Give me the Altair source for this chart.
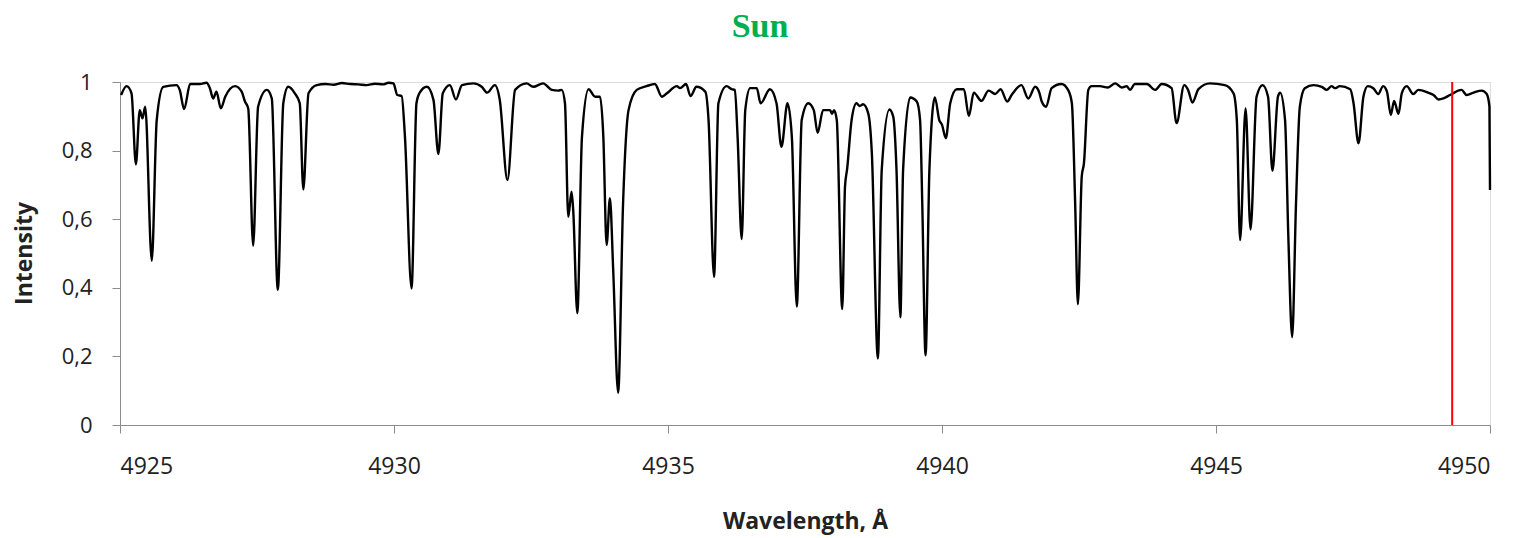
import altair as alt
import pandas as pd

wavelength = [
    4925.02, 4925.12, 4925.21, 4925.29, 4925.36, 4925.41, 4925.46, 4925.58, 4925.67, 4925.79,
    4926.03, 4926.09, 4926.17, 4926.28, 4926.46, 4926.58, 4926.64, 4926.70, 4926.76, 4926.84,
    4926.92, 4927.10, 4927.22, 4927.28, 4927.34, 4927.43, 4927.52, 4927.68, 4927.77, 4927.88,
    4927.98, 4928.07, 4928.19, 4928.28, 4928.345, 4928.44, 4928.59, 4928.75, 4928.90, 4929.05,
    4929.20, 4929.35, 4929.50, 4929.65, 4929.80, 4929.90, 4929.99, 4930.06, 4930.14, 4930.20,
    4930.32, 4930.41, 4930.47, 4930.60, 4930.72, 4930.81, 4930.89, 4931.02, 4931.13, 4931.24,
    4931.45, 4931.60, 4931.70, 4931.84, 4931.93, 4932.07, 4932.21, 4932.42, 4932.54, 4932.72,
    4932.88, 4933.00, 4933.06, 4933.12, 4933.18, 4933.24, 4933.27, 4933.345, 4933.43, 4933.55,
    4933.67, 4933.76, 4933.82, 4933.88, 4933.94, 4934.00, 4934.09, 4934.18, 4934.28, 4934.43,
    4934.61, 4934.76, 4934.89, 4934.98, 4935.16, 4935.22, 4935.33, 4935.41, 4935.52, 4935.68,
    4935.74, 4935.84, 4935.92, 4936.07, 4936.16, 4936.22, 4936.27, 4936.345, 4936.41, 4936.50,
    4936.62, 4936.69, 4936.86, 4936.98, 4937.07, 4937.18, 4937.26, 4937.35, 4937.44, 4937.56,
    4937.66, 4937.73, 4937.83, 4937.96, 4937.99, 4938.03, 4938.08, 4938.18, 4938.23, 4938.27,
    4938.35, 4938.44, 4938.50, 4938.56, 4938.655, 4938.72, 4938.83, 4938.90, 4939.04, 4939.11,
    4939.17, 4939.24, 4939.29, 4939.42, 4939.54, 4939.60, 4939.64, 4939.70, 4939.77, 4939.87,
    4939.95, 4940.00, 4940.07, 4940.15, 4940.27, 4940.40, 4940.49, 4940.58, 4940.72, 4940.85,
    4940.97, 4941.07, 4941.19, 4941.27, 4941.45, 4941.575, 4941.70, 4941.78, 4941.82, 4941.90,
    4942.00, 4942.18, 4942.30, 4942.37, 4942.43, 4942.48, 4942.55, 4942.59, 4942.67, 4942.73,
    4942.88, 4943.03, 4943.16, 4943.28, 4943.37, 4943.43, 4943.52, 4943.74, 4943.89, 4944.01,
    4944.19, 4944.28, 4944.42, 4944.49, 4944.57, 4944.68, 4944.89, 4945.16, 4945.32, 4945.38,
    4945.44, 4945.54, 4945.63, 4945.74, 4945.85, 4945.95, 4946.03, 4946.13, 4946.17, 4946.26,
    4946.32, 4946.39, 4946.46, 4946.53, 4946.62, 4946.78, 4946.93, 4947.02, 4947.11, 4947.17,
    4947.26, 4947.45, 4947.51, 4947.60, 4947.69, 4947.77, 4947.87, 4947.96, 4948.05, 4948.12,
    4948.19, 4948.25, 4948.33, 4948.39, 4948.48, 4948.60, 4948.69, 4948.87, 4948.97, 4949.06,
    4949.15, 4949.27, 4949.48, 4949.575, 4949.70, 4949.85, 4949.94, 4949.99, 4950.00,
]

intensity = [
    0.962, 0.988, 0.967, 0.760, 0.918, 0.894, 0.928, 0.479, 0.889, 0.986,
    0.991, 0.977, 0.921, 0.994, 0.994, 0.998, 0.982, 0.952, 0.972, 0.923,
    0.957, 0.988, 0.972, 0.943, 0.923, 0.523, 0.928, 0.977, 0.952, 0.394,
    0.938, 0.986, 0.967, 0.938, 0.687, 0.967, 0.991, 0.994, 0.992, 0.997,
    0.994, 0.993, 0.991, 0.995, 0.993, 0.998, 0.996, 0.962, 0.959, 0.840,
    0.398, 0.938, 0.969, 0.986, 0.948, 0.790, 0.967, 0.991, 0.949, 0.991,
    0.996, 0.986, 0.969, 0.991, 0.948, 0.714, 0.977, 0.996, 0.986, 0.996,
    0.977, 0.975, 0.977, 0.938, 0.607, 0.680, 0.627, 0.326, 0.840, 0.979,
    0.957, 0.957, 0.840, 0.525, 0.661, 0.452, 0.094, 0.646, 0.918, 0.977,
    0.988, 0.994, 0.957, 0.967, 0.988, 0.982, 0.994, 0.959, 0.986, 0.972,
    0.889, 0.432, 0.938, 0.988, 0.979, 0.977, 0.840, 0.542, 0.918, 0.982,
    0.982, 0.938, 0.979, 0.938, 0.811, 0.938, 0.840, 0.345, 0.889, 0.938,
    0.918, 0.852, 0.918, 0.918, 0.907, 0.918, 0.889, 0.338, 0.695, 0.748,
    0.889, 0.938, 0.930, 0.935, 0.908, 0.792, 0.194, 0.743, 0.920, 0.899,
    0.743, 0.314, 0.743, 0.955, 0.943, 0.889, 0.646, 0.203, 0.743, 0.955,
    0.889, 0.875, 0.836, 0.938, 0.979, 0.979, 0.901, 0.969, 0.945, 0.975,
    0.965, 0.979, 0.943, 0.962, 0.991, 0.952, 0.986, 0.967, 0.943, 0.928,
    0.982, 0.994, 0.977, 0.938, 0.646, 0.352, 0.724, 0.763, 0.977, 0.988,
    0.988, 0.984, 0.996, 0.984, 0.988, 0.977, 0.994, 0.994, 0.977, 0.994,
    0.982, 0.880, 0.991, 0.977, 0.940, 0.979, 0.996, 0.991, 0.967, 0.889,
    0.539, 0.923, 0.570, 0.957, 0.991, 0.957, 0.741, 0.957, 0.969, 0.889,
    0.549, 0.256, 0.646, 0.928, 0.982, 0.991, 0.986, 0.977, 0.988, 0.982,
    0.988, 0.979, 0.938, 0.821, 0.957, 0.988, 0.982, 0.965, 0.988, 0.972,
    0.904, 0.945, 0.907, 0.967, 0.988, 0.965, 0.977, 0.969, 0.962, 0.949,
    0.952, 0.962, 0.977, 0.962, 0.969, 0.975, 0.965, 0.928, 0.685,
]

marker_wavelength = [4949.31]
x_ticks = [4925, 4930, 4935, 4940, 4945, 4950]
y_ticks = [0, 0.2, 0.4, 0.6, 0.8, 1]

spec = pd.DataFrame({"wavelength": wavelength, "intensity": intensity})
marker = pd.DataFrame({"wavelength": marker_wavelength, "lo": [0.0], "hi": [1.0]})

FONT = "Open Sans, sans-serif"
AXIS_GRAY = "#8c8c8c"
TEXT = "#222222"

x_scale = alt.Scale(domain=[4925, 4950], nice=False, zero=False)
y_scale = alt.Scale(domain=[0, 1], nice=False)

line = alt.Chart(spec).mark_line(
    color="black", strokeWidth=2.4, interpolate="monotone"
).encode(
    x=alt.X(
        "wavelength:Q",
        scale=x_scale,
        axis=alt.Axis(
            values=x_ticks,
            title="Wavelength, Å",
            grid=False,
            format="d",
            labelFont=FONT,
            labelFontSize=23,
            labelColor=TEXT,
            labelPadding=22,
            tickSize=8,
            tickColor=AXIS_GRAY,
            domainColor=AXIS_GRAY,
            titleFont=FONT,
            titleFontSize=23,
            titleFontWeight="bold",
            titleColor=TEXT,
            titleX=685,
            titleY=96,
            titleBaseline="middle",
            titleAlign="center",
        ),
    ),
    y=alt.Y(
        "intensity:Q",
        scale=y_scale,
        axis=alt.Axis(
            values=y_ticks,
            title="Intensity",
            grid=False,
            labelExpr="replace(format(datum.value, '~g'), '.', ',')",
            labelFont=FONT,
            labelFontSize=22,
            labelColor=TEXT,
            labelPadding=20,
            tickSize=8,
            tickColor=AXIS_GRAY,
            domainColor=AXIS_GRAY,
            titleFont=FONT,
            titleFontSize=23,
            titleFontWeight="bold",
            titleColor=TEXT,
            titleX=-96,
            titleY=171,
            titleBaseline="middle",
            titleAlign="center",
        ),
    ),
)

rule = alt.Chart(marker).mark_rule(color="#ff0000", strokeWidth=2).encode(
    x=alt.X("wavelength:Q", scale=x_scale),
    y=alt.Y("lo:Q", scale=y_scale),
    y2="hi:Q",
)

chart = (
    alt.layer(line, rule)
    .properties(
        width=1370,
        height=343,
        title=alt.TitleParams(
            text="Sun",
            font="Liberation Serif, DejaVu Serif, serif",
            fontSize=34,
            fontWeight="bold",
            color="#00b050",
            anchor="middle",
            dx=-45,
            offset=27,
        ),
        autosize=alt.AutoSizeParams(type="none"),
        padding={"left": 112, "top": 74, "right": 20, "bottom": 112},
    )
    .configure_view(stroke=None)
    .configure(background="white")
)

chart.save("out.html", embed_options={"renderer": "svg", "actions": False})
